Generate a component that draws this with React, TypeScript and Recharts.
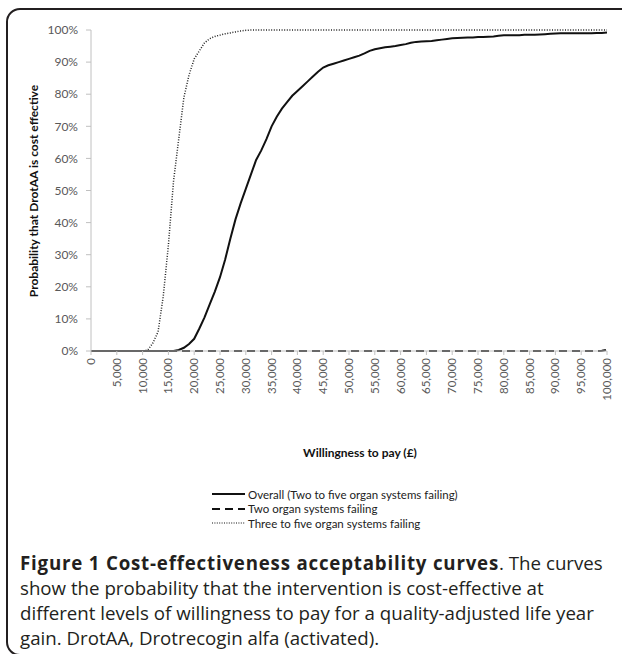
import { LineChart, Line, XAxis, YAxis } from 'recharts'

// willingness to pay (£), one point per £1,000
const wtp = [
  0, 1000, 2000, 3000, 4000, 5000, 6000, 7000, 8000, 9000,
  10000, 11000, 12000, 13000, 14000, 15000, 16000, 17000, 18000, 19000,
  20000, 21000, 22000, 23000, 24000, 25000, 26000, 27000, 28000, 29000,
  30000, 31000, 32000, 33000, 34000, 35000, 36000, 37000, 38000, 39000,
  40000, 41000, 42000, 43000, 44000, 45000, 46000, 47000, 48000, 49000,
  50000, 51000, 52000, 53000, 54000, 55000, 56000, 57000, 58000, 59000,
  60000, 61000, 62000, 63000, 64000, 65000, 66000, 67000, 68000, 69000,
  70000, 71000, 72000, 73000, 74000, 75000, 76000, 77000, 78000, 79000,
  80000, 81000, 82000, 83000, 84000, 85000, 86000, 87000, 88000, 89000,
  90000, 91000, 92000, 93000, 94000, 95000, 96000, 97000, 98000, 99000,
  100000,
]

// probability (%) cost effective
const overall = [
  0, 0, 0, 0, 0, 0, 0, 0, 0, 0,
  0, 0, 0, 0, 0, 0, 0, 0.3, 1, 2.2,
  3.8, 7, 10.5, 14.5, 18.5, 23, 28.5, 35, 41, 46,
  50.5, 55, 59.5, 62.5, 66, 70, 73, 75.5, 77.5, 79.5,
  81, 82.5, 84, 85.5, 87, 88.3, 89, 89.5, 90, 90.5,
  91, 91.5, 92, 92.7, 93.5, 94, 94.3, 94.6, 94.8, 95,
  95.3, 95.6, 96, 96.3, 96.4, 96.5, 96.6, 96.8, 97, 97.2,
  97.4, 97.5, 97.6, 97.7, 97.7, 97.8, 97.8, 97.9, 98, 98.2,
  98.4, 98.4, 98.4, 98.4, 98.5, 98.5, 98.5, 98.6, 98.7, 98.8,
  98.9, 99, 99, 99, 99, 99, 99, 99, 99.1, 99.1,
  99.2,
]

const twoOrgans = [
  0, 0, 0, 0, 0, 0, 0, 0, 0, 0,
  0, 0, 0, 0, 0, 0, 0, 0, 0, 0,
  0, 0, 0, 0, 0, 0, 0, 0, 0, 0,
  0, 0, 0, 0, 0, 0, 0, 0, 0, 0,
  0, 0, 0, 0, 0, 0, 0, 0, 0, 0,
  0, 0, 0, 0, 0, 0, 0, 0, 0, 0,
  0, 0, 0, 0, 0, 0, 0, 0, 0, 0,
  0, 0, 0, 0, 0, 0, 0, 0, 0, 0,
  0, 0, 0, 0, 0, 0, 0, 0, 0, 0,
  0, 0, 0, 0, 0, 0, 0, 0, 0, 0.1,
  0.4,
]

const threeToFive = [
  0, 0, 0, 0, 0, 0, 0, 0, 0, 0,
  0, 0.3, 2.5, 6, 17, 33, 53, 66, 79, 86,
  91, 93.5, 96, 97.3, 98, 98.4, 98.8, 99.1, 99.4, 99.7,
  99.9, 100, 100, 100, 100, 100, 100, 100, 100, 100,
  100, 100, 100, 100, 100, 100, 100, 100, 100, 100,
  100, 100, 100, 100, 100, 100, 100, 100, 100, 100,
  100, 100, 100, 100, 100, 100, 100, 100, 100, 100,
  100, 100, 100, 100, 100, 100, 100, 100, 100, 100,
  100, 100, 100, 100, 100, 100, 100, 100, 100, 100,
  100, 100, 100, 100, 100, 100, 100, 100, 100, 100,
  100,
]

const xTicks = [
  0, 5000, 10000, 15000, 20000, 25000, 30000, 35000, 40000, 45000, 50000,
  55000, 60000, 65000, 70000, 75000, 80000, 85000, 90000, 95000, 100000,
]
const yTicks = [0, 10, 20, 30, 40, 50, 60, 70, 80, 90, 100]

const seriesNames = [
  'Overall (Two to five organ systems failing)',
  'Two organ systems failing',
  'Three to five organ systems failing',
]

const data = wtp.map((w, i) => ({
  wtp: w,
  overall: overall[i],
  two: twoOrgans[i],
  three: threeToFive[i],
}))

const tickFont = 'Lato, "Open Sans", sans-serif'
const axisGrey = '#c0c0c0'

const XTick = ({ x, y, payload }: any) => (
  <text
    x={x}
    y={y}
    dy="0.35em"
    transform={`rotate(-90 ${x} ${y})`}
    textAnchor="end"
    fill="#595959"
    fontSize={11.5}
    fontFamily={tickFont}
  >
    {payload.value.toLocaleString('en-US')}
  </text>
)

const LegendRow = ({ dash, width, label }: { dash?: string; width: number; label: string }) => (
  <div style={{ display: 'flex', alignItems: 'center', height: 14.5 }}>
    <svg width={34} height={10} style={{ marginRight: 2 }}>
      <line x1={0} y1={5} x2={33} y2={5} stroke="#111" strokeWidth={width} strokeDasharray={dash} />
    </svg>
    <span>{label}</span>
  </div>
)

export default function App() {
  return (
    <div
      style={{
        position: 'absolute',
        left: 0,
        top: 0,
        width: 622,
        height: 654,
        overflow: 'hidden',
        background: '#fff',
        fontFamily: tickFont,
      }}
    >
      <div
        style={{
          position: 'absolute',
          left: 6,
          top: 8,
          width: 660,
          height: 648,
          border: '2px solid #231f20',
          borderRadius: 14,
          boxSizing: 'border-box',
        }}
      />

      <div style={{ position: 'absolute', left: 0, top: 0 }}>
        <LineChart
          width={622}
          height={420}
          data={data}
          margin={{ top: 30, right: 15, left: 0, bottom: 19 }}
        >
          <XAxis
            dataKey="wtp"
            type="number"
            domain={[0, 100000]}
            ticks={xTicks}
            interval={0}
            height={50}
            stroke={axisGrey}
            tickSize={4}
            tickMargin={3}
            tick={<XTick />}
          />
          <YAxis
            type="number"
            domain={[0, 100]}
            ticks={yTicks}
            width={91}
            stroke={axisGrey}
            tickSize={5}
            tickMargin={8}
            tickFormatter={(v) => `${v}%`}
            tick={{ fill: '#595959', fontSize: 12, fontFamily: tickFont }}
          />
          <Line
            dataKey="two"
            name={seriesNames[1]}
            stroke="#111"
            strokeWidth={2}
            strokeDasharray="8 5"
            dot={false}
            isAnimationActive={false}
          />
          <Line
            dataKey="three"
            name={seriesNames[2]}
            stroke="#222"
            strokeWidth={1.5}
            strokeDasharray="1 1.6"
            dot={false}
            isAnimationActive={false}
          />
          <Line
            dataKey="overall"
            name={seriesNames[0]}
            stroke="#111"
            strokeWidth={2}
            dot={false}
            isAnimationActive={false}
          />
        </LineChart>
      </div>

      {/* y axis title */}
      <div
        style={{
          position: 'absolute',
          left: 33,
          top: 191,
          transform: 'translate(-50%, -50%) rotate(-90deg)',
          whiteSpace: 'nowrap',
          fontWeight: 700,
          fontSize: 12,
          color: '#111',
        }}
      >
        Probability that DrotAA is cost effective
      </div>

      {/* x axis title */}
      <div
        style={{
          position: 'absolute',
          left: 360,
          top: 452,
          transform: 'translate(-50%, -50%)',
          whiteSpace: 'nowrap',
          fontWeight: 700,
          fontSize: 12,
          color: '#111',
        }}
      >
        Willingness to pay (£)
      </div>

      {/* legend */}
      <div
        style={{
          position: 'absolute',
          left: 212,
          top: 487,
          fontSize: 11.5,
          color: '#222',
          whiteSpace: 'nowrap',
        }}
      >
        <LegendRow width={2} label={seriesNames[0]} />
        <LegendRow width={2} dash="8 5" label={seriesNames[1]} />
        <LegendRow width={1.2} dash="1 1.4" label={seriesNames[2]} />
      </div>

      {/* caption */}
      <div
        style={{
          position: 'absolute',
          left: 20,
          top: 550,
          fontFamily: '"Open Sans", "Noto Sans", sans-serif',
          fontSize: 18.7,
          lineHeight: '25px',
          color: '#231f20',
          whiteSpace: 'nowrap',
        }}
      >
        <div>
          <b style={{ letterSpacing: 0.8 }}>Figure 1 Cost-effectiveness acceptability curves</b>. The curves
        </div>
        <div>show the probability that the intervention is cost-effective at</div>
        <div>different levels of willingness to pay for a quality-adjusted life year</div>
        <div>gain. DrotAA, Drotrecogin alfa (activated).</div>
      </div>
    </div>
  )
}
